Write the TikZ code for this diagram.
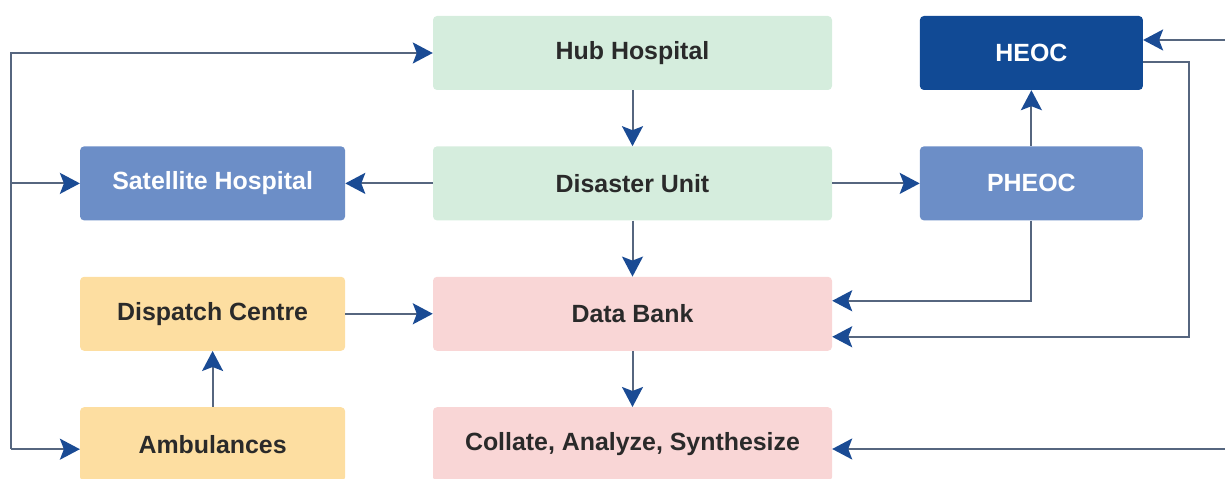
\documentclass[tikz,border=0pt]{standalone}
\usepackage{fontspec}
\setmainfont{Liberation Sans}
\usetikzlibrary{arrows.meta,positioning,calc}
\definecolor{hubgreen}{HTML}{D5EDDD}
\definecolor{satblue}{HTML}{6C8EC7}
\definecolor{heocblue}{HTML}{114A95}
\definecolor{dispatchorange}{HTML}{FDDEA1}
\definecolor{datapink}{HTML}{F9D6D6}
\definecolor{textdark}{HTML}{2A2A2A}
\definecolor{linegray}{HTML}{56667F}
\definecolor{tipblue}{HTML}{1A4B94}
\tikzset{
  unit/.style={rectangle, rounded corners=4bp, fill=#1, align=center, inner sep=0pt,
               font=\fontsize{25}{28}\selectfont\bfseries, minimum height=74bp},
  arr/.style={-{Stealth[length=20bp, width=21bp, inset=4bp, color=tipblue]}, line width=2bp, draw=linegray},
}

\begin{document}
\begin{tikzpicture}[x=1bp, y=1bp, node distance=56bp and 87.5bp]
  \useasboundingbox (0,0) rectangle (1225,479);
  % centre column
  \node[unit=hubgreen, text=textdark, minimum width=399bp] (hub) at (632.5,426) {Hub Hospital};
  \node[unit=hubgreen, text=textdark, minimum width=399bp, below=of hub] (disaster) {Disaster Unit};
  \node[unit=datapink, text=textdark, minimum width=399bp, below=of disaster] (databank) {Data Bank};
  \node[unit=datapink, text=textdark, minimum width=399bp, below=of databank] (collate) {Collate, Analyze, Synthesize};
  % left column
  \node[unit=satblue, text=white, minimum width=265bp, left=of disaster] (sat) {Satellite Hospital};
  \node[unit=dispatchorange, text=textdark, minimum width=265bp, left=of databank] (dispatch) {Dispatch Centre};
  \node[unit=dispatchorange, text=textdark, minimum width=265bp, left=of collate] (ambul) {Ambulances};
  % right column
  \node[unit=satblue, text=white, minimum width=223bp, right=of disaster] (pheoc) {PHEOC};
  \node[unit=heocblue, text=white, minimum width=223bp, above=of pheoc] (heoc) {HEOC};

  \draw[arr] (hub) -- (disaster); \draw[arr] (disaster) -- (databank); \draw[arr] (databank) -- (collate);
  \draw[arr] (disaster) -- (sat); \draw[arr] (disaster) -- (pheoc); \draw[arr] (pheoc) -- (heoc);
  \draw[arr] (ambul) -- (dispatch); \draw[arr] (dispatch) -- (databank);

  % left bus
  \coordinate (lbus) at (11,0);
  \coordinate (ambin) at ([yshift=-5bp]ambul.west);
  \draw[arr] (ambin -| lbus) -- (hub.west -| lbus) -- (hub.west);
  \draw[arr] (sat.west -| lbus) -- (sat);
  \draw[arr] (ambin -| lbus) -- (ambin);

  % right side
  \coordinate (rtop) at (1225,439);
  \coordinate (rbot) at (1225,30);
  \draw[arr] (rtop) -- (rtop -| heoc.east);
  \draw[arr] (rbot) -- (rbot -| collate.east);
  \draw[arr] (pheoc.south) |- ([yshift=13bp]databank.east);
  \draw[arr] ([yshift=-9bp]heoc.east) -- ++(46,0) |- ([yshift=-23bp]databank.east);
\end{tikzpicture}
\end{document}
